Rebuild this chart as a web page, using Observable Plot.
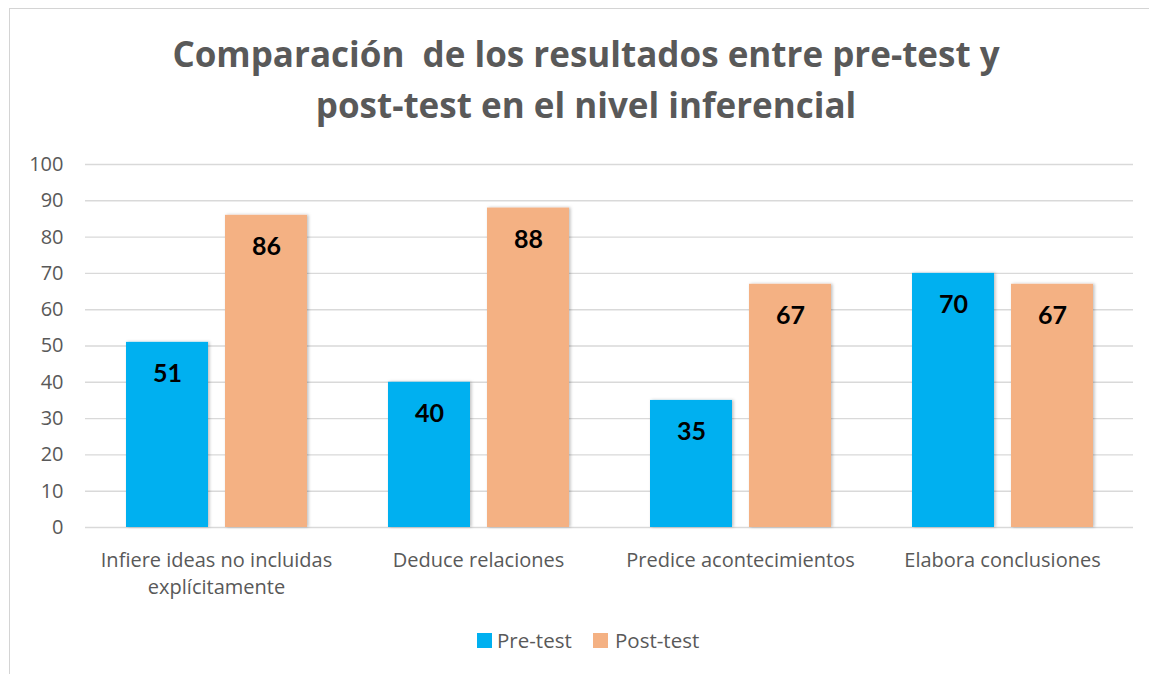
<!DOCTYPE html>
<html>
<head>
<meta charset="utf-8">
<script src="https://cdn.jsdelivr.net/npm/d3@7"></script>
<script src="https://cdn.jsdelivr.net/npm/@observablehq/plot@0.6"></script>
<style>
  html, body { margin: 0; padding: 0; background: #fff; }
  #wrap { position: relative; width: 1149px; height: 674px; overflow: hidden; background: #fff; }
  #frame { position: absolute; left: 9px; top: 8px; width: 1200px; height: 700px;
           border-top: 1.5px solid #d4d4d4; border-left: 1.5px solid #d4d4d4; }
  .title { position: absolute; left: 586px; transform: translateX(-50%); white-space: pre;
           font-family: "Open Sans", sans-serif; font-weight: bold; font-size: 35px; line-height: 1;
           color: #595959; }
  #chart { position: absolute; left: 0; top: 140px; }
  #legend { position: absolute; left: 0; top: 630px; width: 1149px; height: 20px;
            font-family: "Open Sans", sans-serif; font-size: 20.5px; color: #595959; }
  .sw { position: absolute; width: 15px; height: 15px; top: 3px; }
  .lt { position: absolute; top: 0; line-height: 20px; }
</style>
</head>
<body>
<div id="wrap">
  <div id="frame"></div>
  <div class="title" id="t1" style="top:36px"></div>
  <div class="title" id="t2" style="top:87px"></div>
  <div id="chart"></div>
  <div id="legend"></div>
</div>
<script>
const titleLines = ["Comparación  de los resultados entre pre-test y", "post-test en el nivel inferencial"];
const categories = ["Infiere ideas no incluidas explícitamente", "Deduce relaciones", "Predice acontecimientos", "Elabora conclusiones"];
const categoryLabels = ["Infiere ideas no incluidas\nexplícitamente", "Deduce relaciones", "Predice acontecimientos", "Elabora conclusiones"];
const series = ["Pre-test", "Post-test"];
const preTest = [51, 40, 35, 70];
const postTest = [86, 88, 67, 67];
const colors = ["#00B0F0", "#F4B183"];
const yTicks = [0, 10, 20, 30, 40, 50, 60, 70, 80, 90, 100];

document.getElementById("t1").textContent = titleLines[0];
document.getElementById("t2").textContent = titleLines[1];

const data = [];
categories.forEach((c, i) => {
  data.push({category: c, series: series[0], value: preTest[i]});
  data.push({category: c, series: series[1], value: postTest[i]});
});

const plot = Plot.plot({
  width: 1149,
  height: 467,
  marginLeft: 84,
  marginRight: 16,
  marginTop: 24,
  marginBottom: 80,
  style: {fontFamily: "'Open Sans', sans-serif", fontSize: "20px", color: "#595959", background: "transparent"},
  fx: {domain: categories, padding: 0, label: null},
  x: {domain: series, paddingInner: 0.172, paddingOuter: 0.409, axis: null},
  y: {domain: [0, 100], label: null},
  color: {domain: series, range: colors},
  marks: [
    Plot.gridY(yTicks, {stroke: "#d9d9d9", strokeOpacity: 1, strokeWidth: 1.4}),
    Plot.axisY(yTicks, {tickSize: 0, tickPadding: 22, label: null, color: "#595959"}),
    Plot.axisFx({anchor: "bottom", tickSize: 0, tickPadding: 20, lineHeight: 1.35, label: null,
                 color: "#595959", tickFormat: (d) => categoryLabels[categories.indexOf(d)]}),
    Plot.barY(data, {fx: "category", x: "series", y: "value", fill: "series"}),
    Plot.text(data, {fx: "category", x: "series", y: "value", text: (d) => String(d.value),
                     dy: 32, lineAnchor: "middle", fill: "#000", fontWeight: "bold",
                     fontSize: 25, fontFamily: "Lato, sans-serif"})
  ]
});

// subtle shadow on bars
const svg = d3.select(plot);
const defs = svg.insert("defs", ":first-child");
const f = defs.append("filter").attr("id", "shadow").attr("x", "-20%").attr("y", "-10%").attr("width", "140%").attr("height", "120%");
f.append("feDropShadow").attr("dx", 1.5).attr("dy", 0).attr("stdDeviation", 1.5).attr("flood-color", "#000").attr("flood-opacity", 0.25);
svg.selectAll("g[aria-label='bar'] rect").attr("filter", "url(#shadow)");

document.getElementById("chart").appendChild(plot);

// legend
const legend = document.getElementById("legend");
const legendPos = [{sw: 477, tx: 497}, {sw: 593, tx: 615}];
series.forEach((s, i) => {
  const sw = document.createElement("div");
  sw.className = "sw"; sw.style.left = legendPos[i].sw + "px"; sw.style.background = colors[i];
  legend.appendChild(sw);
  const t = document.createElement("div");
  t.className = "lt"; t.style.left = legendPos[i].tx + "px"; t.textContent = s;
  legend.appendChild(t);
});
</script>
</body>
</html>
